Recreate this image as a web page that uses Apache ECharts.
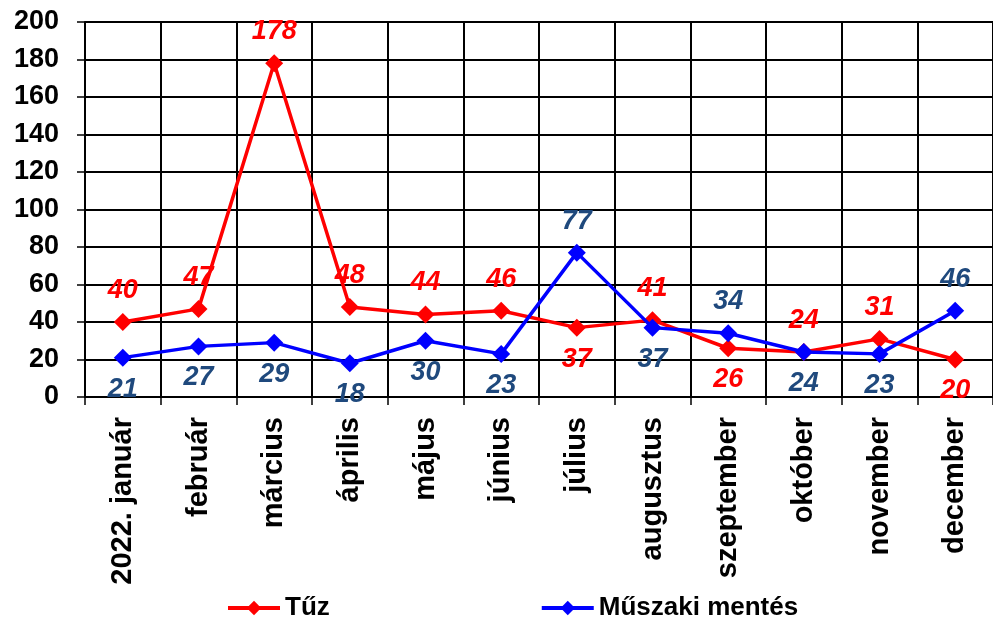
<!DOCTYPE html>
<html>
<head>
<meta charset="utf-8">
<script src="https://cdn.jsdelivr.net/npm/echarts@6/dist/echarts.min.js"></script>
<style>
html,body{margin:0;padding:0;background:#fff;}
#c{width:993px;height:623px;}
</style>
</head>
<body>
<div id="c"></div>
<script>
const categories = ['2022. január','február','március','április','május','június','július','augusztus','szeptember','október','november','december'];
const tuz = [40,47,178,48,44,46,37,41,26,24,31,20];
const muszaki = [21,27,29,18,30,23,77,37,34,24,23,46];
const seriesNames = ['Tűz','Műszaki mentés'];
const tuzLabelPos = ['top','top','top','top','top','top','bottom','top','bottom','top','top','bottom'];
const muszakiLabelPos = ['bottom','bottom','bottom','bottom','bottom','bottom','top','bottom','top','bottom','bottom','top'];

const FONT = '"Liberation Sans", Arial, sans-serif';

function buildData(vals, pos){
  return vals.map((v,i)=>({value:v, label:{position:pos[i]}}));
}

const chart = echarts.init(document.getElementById('c'), null, {renderer:'canvas'});
chart.setOption({
  animation:false,
  backgroundColor:'#fff',
  grid:{left:85, right:-6, top:22, bottom:226, containLabel:false},
  legend:{
    data:seriesNames,
    left:221, top:590,
    itemWidth:52, itemHeight:18, itemGap:210,
    lineStyle:{width:4},
    textStyle:{fontFamily:FONT, fontWeight:'bold', fontSize:26, color:'#000'}
  },
  xAxis:{
    type:'category',
    data:categories,
    boundaryGap:true,
    axisLine:{lineStyle:{color:'#000', width:2}},
    axisTick:{show:true, length:8, lineStyle:{color:'#000', width:1.5}},
    splitLine:{show:true, lineStyle:{color:'#000', width:2}},
    axisLabel:{rotate:90, margin:20, interval:0, fontFamily:FONT, fontWeight:'bold', fontSize:29, color:'#000'}
  },
  yAxis:{
    type:'value', min:0, max:200, interval:20,
    axisLine:{show:true, lineStyle:{color:'#000', width:2}},
    axisTick:{show:true, length:8, lineStyle:{color:'#000', width:1.5}},
    splitLine:{show:true, lineStyle:{color:'#000', width:2}},
    axisLabel:{margin:26, fontFamily:FONT, fontWeight:'bold', fontSize:27, color:'#000'}
  },
  series:[
    {
      name:seriesNames[0], type:'line',
      data:buildData(tuz, tuzLabelPos),
      symbol:'diamond', symbolSize:18,
      lineStyle:{color:'#ff0000', width:3.5},
      itemStyle:{color:'#ff0000'},
      label:{show:true, distance:9, fontFamily:FONT, fontWeight:'bold', fontStyle:'italic', fontSize:27, color:'#ff0000'},
      z:3
    },
    {
      name:seriesNames[1], type:'line',
      data:buildData(muszaki, muszakiLabelPos),
      symbol:'diamond', symbolSize:18,
      lineStyle:{color:'#0000ff', width:3.5},
      itemStyle:{color:'#0000ff'},
      label:{show:true, distance:9, fontFamily:FONT, fontWeight:'bold', fontStyle:'italic', fontSize:27, color:'#1f497d'},
      z:4
    }
  ]
});
</script>
</body>
</html>
